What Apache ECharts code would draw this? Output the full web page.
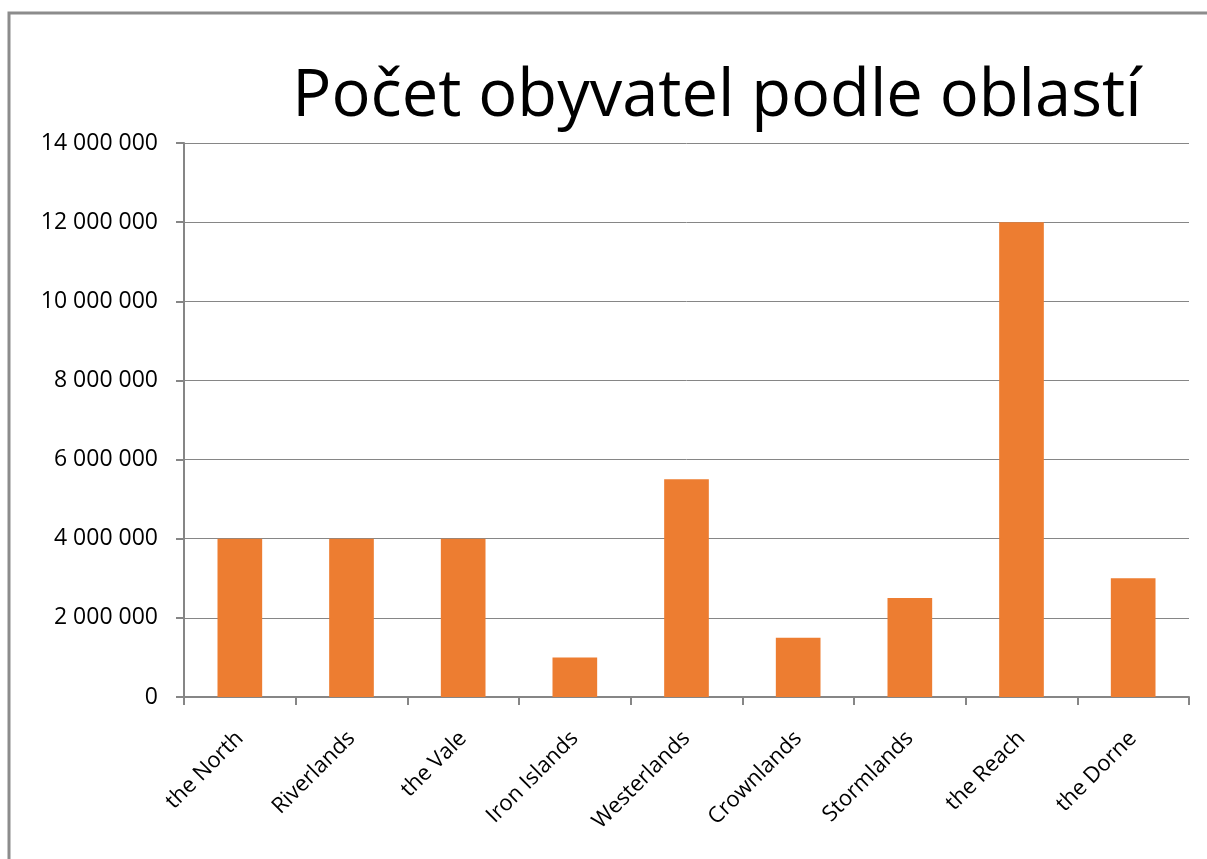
<!DOCTYPE html>
<html>
<head>
<meta charset="utf-8">
<script src="https://cdn.jsdelivr.net/npm/echarts@6/dist/echarts.min.js"></script>
<style>
  html, body { margin: 0; padding: 0; background: #fff; }
  #chart { width: 1207px; height: 859px; }
</style>
</head>
<body>
<div id="chart"></div>
<script>
// data
const regions = ['the North', 'Riverlands', 'the Vale', 'Iron Islands', 'Westerlands',
  'Crownlands', 'Stormlands', 'the Reach', 'the Dorne']
const population = [4000000, 4000000, 4000000, 1000000, 5500000, 1500000, 2500000, 12000000, 3000000]
const yMax = 14000000
const yStep = 2000000

const font = 'Open Sans'

function fmt(v) {
  // 14000000 -> "14 000 000"
  return String(v).replace(/\B(?=(\d{3})+(?!\d))/g, ' ')
}

const chart = echarts.init(document.getElementById('chart'))
chart.setOption({
  animation: false,
  textStyle: { fontFamily: font },
  graphic: [{
    type: 'polyline',
    shape: { points: [[9, 859], [9, 13], [1207, 13]] },
    style: { stroke: '#8c8c8c', lineWidth: 3, fill: null }
  }],
  title: {
    text: 'Počet obyvatel podle oblastí',
    left: 712,
    top: 60,
    textAlign: 'center',
    textStyle: { fontFamily: font, fontSize: 65, fontWeight: 'normal', color: '#000' }
  },
  grid: { left: 184, right: 18, top: 143, bottom: 162 },
  xAxis: {
    type: 'category',
    data: regions,
    axisLine: { lineStyle: { color: '#868686', width: 2 } },
    axisTick: { show: true, length: 8, lineStyle: { color: '#868686', width: 2 } },
    axisLabel: { rotate: 45, margin: 38, fontSize: 22, color: '#000', fontFamily: font }
  },
  yAxis: {
    type: 'value',
    min: 0,
    max: yMax,
    interval: yStep,
    axisLine: { show: true, lineStyle: { color: '#868686', width: 2 } },
    axisTick: { show: true, length: 8, lineStyle: { color: '#868686', width: 2 } },
    splitLine: { lineStyle: { color: '#868686', width: 1 } },
    axisLabel: { formatter: fmt, margin: 26, fontSize: 23, color: '#000', fontFamily: font }
  },
  series: [{
    type: 'bar',
    data: population,
    barWidth: '40%',
    itemStyle: { color: '#ED7D31' }
  }]
})
</script>
</body>
</html>
